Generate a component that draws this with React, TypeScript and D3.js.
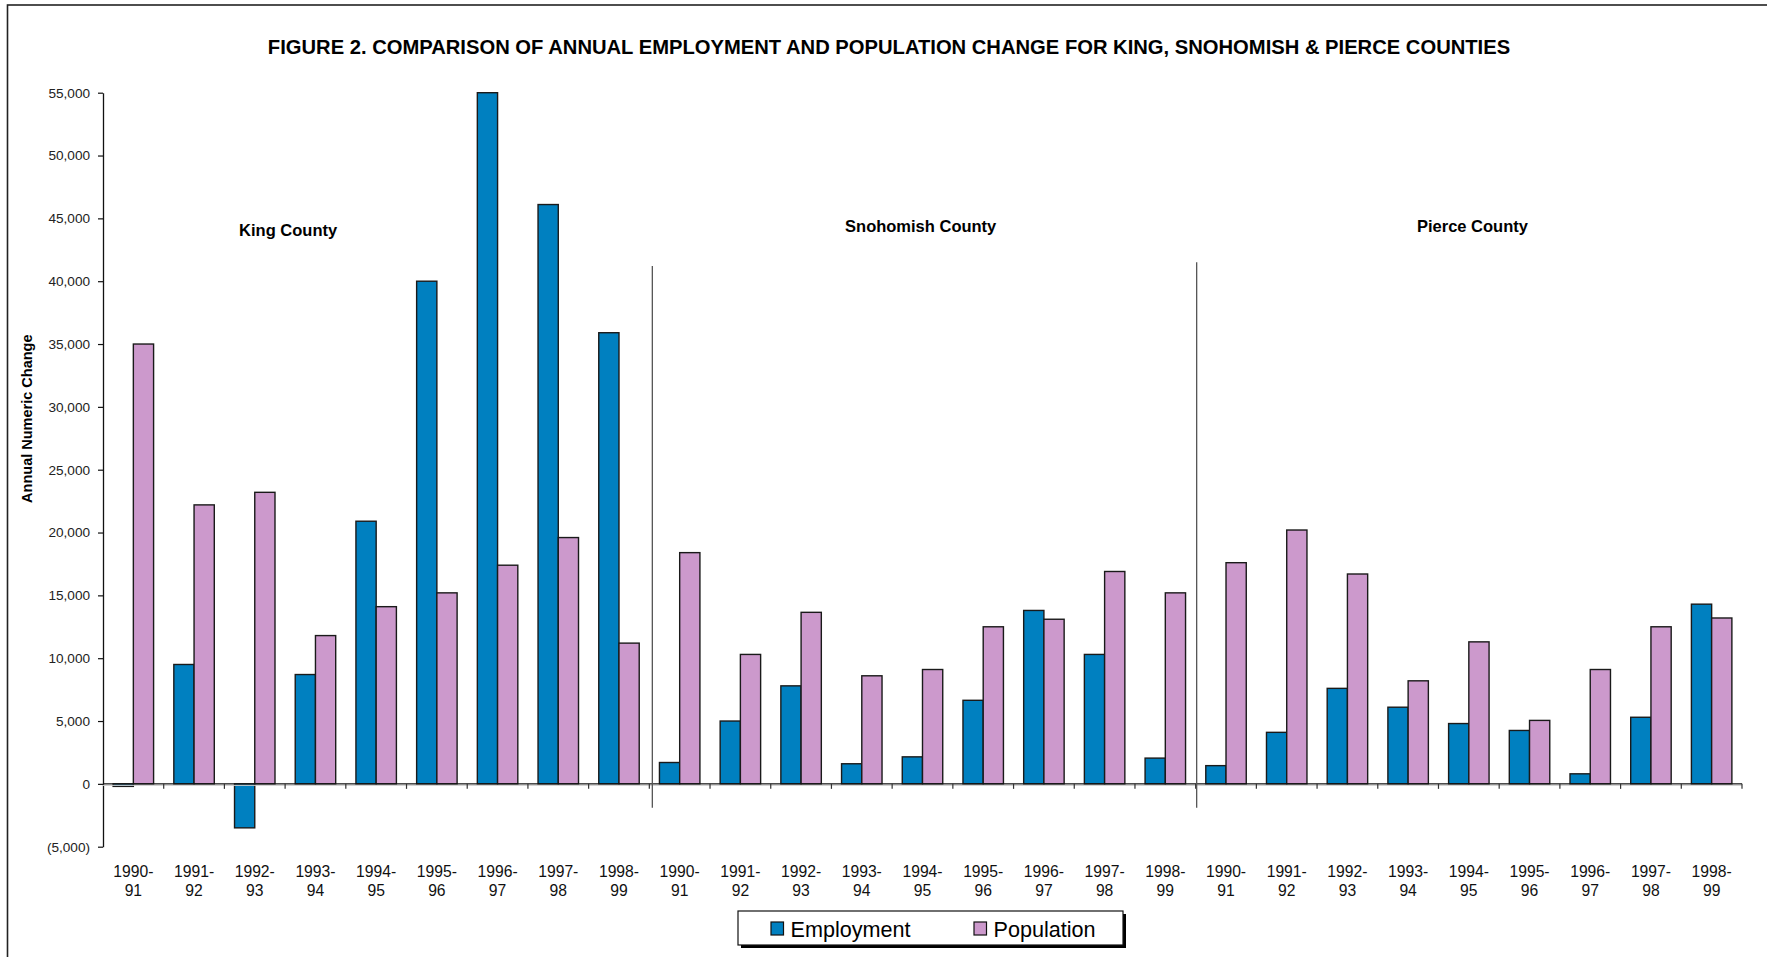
import React, { useEffect, useRef } from 'react';
import * as d3 from 'd3';

const counties = ['King County', 'Snohomish County', 'Pierce County'];
const periods = ['1990-91', '1991-92', '1992-93', '1993-94', '1994-95', '1995-96', '1996-97', '1997-98', '1998-99'];

const kingEmployment = [-200, 9500, -3500, 8700, 20900, 40000, 55000, 46100, 35900];
const kingPopulation = [35000, 22200, 23200, 11800, 14100, 15200, 17400, 19600, 11200];
const snohomishEmployment = [1700, 5000, 7800, 1600, 2150, 6650, 13800, 10300, 2050];
const snohomishPopulation = [18400, 10300, 13650, 8600, 9100, 12500, 13100, 16900, 15200];
const pierceEmployment = [1450, 4100, 7600, 6100, 4800, 4250, 800, 5300, 14300];
const piercePopulation = [17600, 20200, 16700, 8200, 11300, 5050, 9100, 12500, 13200];

const seriesNames = ['Employment', 'Population'];
const seriesColors = ['#0080C0', '#CC99CC'];
const yTicks = [-5000, 0, 5000, 10000, 15000, 20000, 25000, 30000, 35000, 40000, 45000, 50000, 55000];

const FONT = '"Liberation Sans", Arial, sans-serif';

const App = () => {
  const svgRef = useRef<SVGSVGElement>(null);

  useEffect(() => {
    const svg = d3.select(svgRef.current);
    svg.selectAll('*').remove();

    const employment = [kingEmployment, snohomishEmployment, pierceEmployment];
    const population = [kingPopulation, snohomishPopulation, piercePopulation];
    const rows = counties.flatMap((c, ci) =>
      periods.map((p, pi) => ({
        key: `${c}|${p}`,
        period: p,
        values: [employment[ci][pi], population[ci][pi]],
      }))
    );

    const margin = { top: 92.7, right: 25, bottom: 110.3, left: 103 };
    const width = 1767;
    const height = 957;

    const x = d3.scaleBand()
      .domain(rows.map(d => d.key))
      .range([margin.left, width - margin.right])
      .padding(0);

    const y = d3.scaleLinear()
      .domain([-5000, 55000])
      .range([height - margin.bottom, margin.top]);

    const bw = x.bandwidth();
    const barW = bw / 3;

    // outer frame
    svg.append('rect')
      .attr('x', 7.5).attr('y', 5).attr('width', 1800).attr('height', 1000)
      .attr('fill', 'none').attr('stroke', '#222').attr('stroke-width', 1.6);

    // title
    svg.append('text')
      .attr('x', 889).attr('y', 53.5)
      .attr('text-anchor', 'middle')
      .attr('font-family', FONT).attr('font-weight', 'bold').attr('font-size', 20.2)
      .attr('fill', '#000')
      .text('FIGURE 2. COMPARISON OF ANNUAL EMPLOYMENT AND POPULATION CHANGE FOR KING, SNOHOMISH & PIERCE COUNTIES');

    // y axis
    const fmt = d3.format(',');
    const yAxis = svg.append('g')
      .attr('transform', `translate(${margin.left},0)`)
      .call(
        d3.axisLeft(y)
          .tickValues(yTicks)
          .tickSize(5)
          .tickSizeOuter(0)
          .tickPadding(8)
          .tickFormat(d => (+d < 0 ? `(${fmt(-d)})` : fmt(+d)))
      );
    yAxis.select('.domain').attr('stroke', '#111').attr('stroke-width', 1.3);
    yAxis.selectAll('.tick line').attr('stroke', '#111').attr('stroke-width', 1.2);
    yAxis.selectAll('.tick text')
      .attr('font-family', FONT).attr('font-size', 13.6).attr('fill', '#222');

    svg.append('text')
      .attr('transform', `translate(32,${(y(-5000) + y(55000)) / 2 - 51}) rotate(-90)`)
      .attr('text-anchor', 'middle')
      .attr('font-family', FONT).attr('font-weight', 'bold').attr('font-size', 14.5)
      .attr('fill', '#000')
      .text('Annual Numeric Change');

    // bars
    const groups = svg.append('g').selectAll('g')
      .data(rows)
      .enter()
      .append('g');

    groups.selectAll('rect')
      .data(d => d.values.map((v, i) => ({ key: d.key, v, i })))
      .enter()
      .append('rect')
      .attr('x', d => (x(d.key) as number) + bw / 6 + d.i * barW)
      .attr('y', d => y(Math.max(0, d.v)))
      .attr('width', barW)
      .attr('height', d => Math.abs(y(d.v) - y(0)))
      .attr('fill', d => seriesColors[d.i])
      .attr('stroke', '#1a1a1a')
      .attr('stroke-width', 1.4);

    // zero axis line with ticks at category boundaries
    svg.append('line')
      .attr('x1', margin.left).attr('x2', width - margin.right)
      .attr('y1', y(0)).attr('y2', y(0))
      .attr('stroke', '#111').attr('stroke-width', 1.3);
    svg.append('line')
      .attr('x1', margin.left).attr('x2', width - margin.right)
      .attr('y1', y(0) + 1.5).attr('y2', y(0) + 1.5)
      .attr('stroke', '#ccc').attr('stroke-width', 1);

    svg.append('g').selectAll('line')
      .data(rows)
      .enter()
      .append('line')
      .attr('x1', d => (x(d.key) as number) + bw)
      .attr('x2', d => (x(d.key) as number) + bw)
      .attr('y1', y(0)).attr('y2', y(0) + 5)
      .attr('stroke', '#333').attr('stroke-width', 1.2);

    // category labels (two lines)
    const labels = svg.append('g').selectAll('text')
      .data(rows)
      .enter()
      .append('text')
      .attr('text-anchor', 'middle')
      .attr('font-family', FONT).attr('font-size', 15.7).attr('fill', '#111');
    labels.append('tspan')
      .attr('x', d => (x(d.key) as number) + bw / 2)
      .attr('y', y(-5000) + 30.5)
      .text(d => d.period.split('-')[0] + '-');
    labels.append('tspan')
      .attr('x', d => (x(d.key) as number) + bw / 2)
      .attr('y', y(-5000) + 49.5)
      .text(d => d.period.split('-')[1]);

    // county separators
    const separators = [
      { key: `${counties[1]}|${periods[0]}`, top: 41200, dx: 3 },
      { key: `${counties[2]}|${periods[0]}`, top: 41500, dx: 1 },
    ];
    svg.append('g').selectAll('line')
      .data(separators)
      .enter()
      .append('line')
      .attr('x1', d => (x(d.key) as number) + d.dx)
      .attr('x2', d => (x(d.key) as number) + d.dx)
      .attr('y1', d => y(d.top))
      .attr('y2', y(-1900))
      .attr('stroke', '#555').attr('stroke-width', 1.3);

    // county labels
    const countyLabels = [
      { name: counties[0], pos: 3.05, value: 43600 },
      { name: counties[1], pos: 13.47, value: 43950 },
      { name: counties[2], pos: 22.56, value: 43950 },
    ];
    svg.append('g').selectAll('text')
      .data(countyLabels)
      .enter()
      .append('text')
      .attr('x', d => margin.left + d.pos * bw)
      .attr('y', d => y(d.value))
      .attr('text-anchor', 'middle')
      .attr('font-family', FONT).attr('font-weight', 'bold').attr('font-size', 16.5)
      .attr('fill', '#000')
      .text(d => d.name);

    // legend
    const lg = svg.append('g').attr('transform', 'translate(738,911)');
    lg.append('rect')
      .attr('x', 3).attr('y', 3).attr('width', 385).attr('height', 34)
      .attr('fill', '#000');
    lg.append('rect')
      .attr('x', 0).attr('y', 0).attr('width', 385).attr('height', 34)
      .attr('fill', '#fff').attr('stroke', '#111').attr('stroke-width', 1.2);
    const items = lg.selectAll('g.item')
      .data(seriesNames)
      .enter()
      .append('g')
      .attr('class', 'item')
      .attr('transform', (d, i) => `translate(${i === 0 ? 33 : 236},0)`);
    items.append('rect')
      .attr('x', 0).attr('y', 11).attr('width', 12.5).attr('height', 13)
      .attr('fill', (d, i) => seriesColors[i])
      .attr('stroke', '#111').attr('stroke-width', 1.2);
    items.append('text')
      .attr('x', 19.5).attr('y', 25.5)
      .attr('font-family', FONT).attr('font-size', 21.6).attr('fill', '#000')
      .text(d => d);
  }, []);

  return (
    <div style={{ position: 'absolute', left: 0, top: 0, width: 1767, height: 957, background: '#fff' }}>
      <svg ref={svgRef} width={1767} height={957} style={{ display: 'block' }}></svg>
    </div>
  );
};

export default App;
